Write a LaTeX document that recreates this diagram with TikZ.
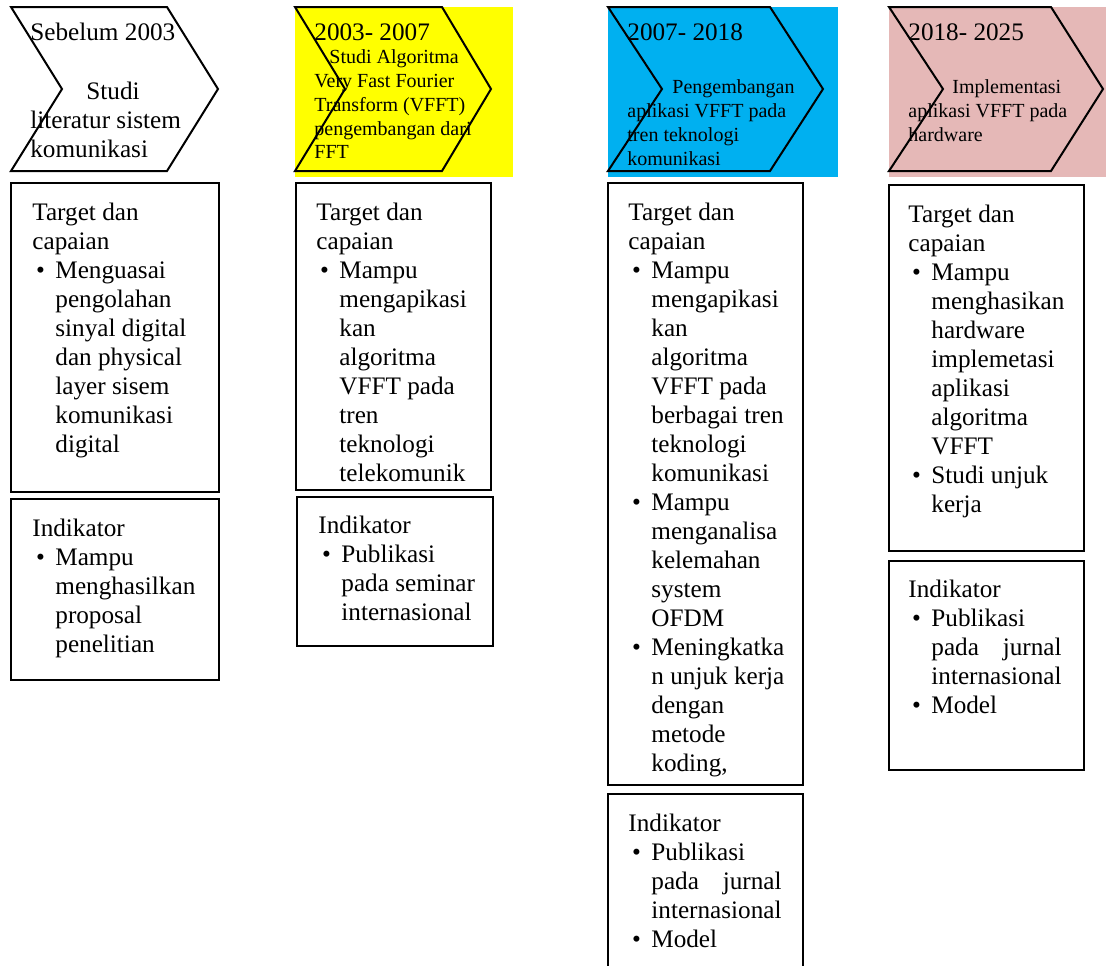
\documentclass[tikz,border=0pt]{standalone}
\usepackage{fontspec}
\setmainfont{Liberation Serif}
\usepackage{calc}
\usetikzlibrary{positioning,fit}
\definecolor{stageyellow}{RGB}{255,255,0}
\definecolor{stageblue}{RGB}{0,176,240}
\definecolor{stagepink}{RGB}{229,184,183}
\newcommand{\bitem}{\makebox[11.5pt][l]{\hspace{1.8pt}\textbullet}}
\newcommand{\bcont}{\hspace*{11.5pt}}
\newcommand{\jline}[2]{\makebox[\widthof{internasional}][s]{#1\hfill #2}}
\begin{document}
\begin{tikzpicture}[x=0.5pt,y=-0.5pt,
    panel/.style={draw=black,line width=0.8pt,inner sep=0pt},
    arrowline/.style={draw=black,line width=1pt,line join=miter},
    yr/.style={font=\fontsize{12.6}{14.5}\selectfont,anchor=base west,inner sep=0pt},
    desc/.style={font=\fontsize{10}{11.9}\selectfont,align=left,anchor=north west,
                 inner sep=0pt,yshift=6.8pt,execute at begin node=\strut},
    body/.style={font=\fontsize{12.6}{14.5}\selectfont,align=left,anchor=north west,
                 inner sep=0pt,yshift=8.2pt,execute at begin node=\strut}]
  \useasboundingbox (0,0) rectangle (1106,965);
  \clip (0,0) rectangle (1106,965);
  % header backgrounds
  \fill[stageyellow] (295,7) rectangle (513,177);
  \fill[stageblue] (608,7) rectangle (838,177);
  \fill[stagepink] (889,7) rectangle (1106,177);
  % chevrons
  \draw[arrowline] (11,7) -- (167,7) -- (218,89) -- (167,171) -- (11,171) -- (62,89) -- cycle;
  \draw[arrowline] (295,7) -- (442,7) -- (491,89) -- (442,171) -- (295,171) -- (345,89) -- cycle;
  \draw[arrowline] (608,7) -- (770,7) -- (823,89) -- (770,171) -- (608,171) -- (662,89) -- cycle;
  \draw[arrowline] (889,7) -- (1051,7) -- (1103,89) -- (1051,171) -- (889,171) -- (943,89) -- cycle;
  % years and stage texts
  \node[yr] (y1) at (30,40) {Sebelum 2003};
  \node[body] (s1) at (30,98) {\hspace*{28pt}Studi\\literatur sistem\\komunikasi};
  \node[yr] (y2) at (314,40) {2003- 2007};
  \node[desc] (s2) at (314,63) {\hspace*{7.5pt}Studi Algoritma\\Very Fast Fourier\\Transform (VFFT)\\pengembangan dari\\FFT};
  \node[yr] (y3) at (627,40) {2007- 2018};
  \node[desc] (s3) at (627,93) {\hspace*{22.5pt}Pengembangan\\aplikasi VFFT pada\\tren teknologi\\komunikasi};
  \node[yr] (y4) at (908,40) {2018- 2025};
  \node[desc] (s4) at (908,93) {\hspace*{22pt}Implementasi\\aplikasi VFFT pada\\hardware};
  % target boxes
  \node[panel,fit={(11,183) (219,492)}] (t1) {};
  \node[panel,fit={(296,183) (491,490)}] (t2) {};
  \node[panel,fit={(608,183) (803,785)}] (t3) {};
  \node[panel,fit={(889,185) (1084,551)}] (t4) {};
  % indikator boxes
  \node[panel,fit={(11,499) (219,680)}] (i1) {};
  \node[panel,fit={(297,497) (493,646)}] (i2) {};
  \node[panel,fit={(608,794) (803,990)}] (i3) {};
  \node[panel,fit={(889,561) (1084,770)}] (i4) {};
  % target texts
  \node[body] (t1txt) at (32,219) {Target dan\\capaian\\\bitem Menguasai\\\bcont pengolahan\\\bcont sinyal digital\\\bcont dan physical\\\bcont layer sisem\\\bcont komunikasi\\\bcont digital};
  \node[body] (t2txt) at (316,219) {Target dan\\capaian\\\bitem Mampu\\\bcont mengapikasi\\\bcont kan\\\bcont algoritma\\\bcont VFFT pada\\\bcont tren\\\bcont teknologi\\\bcont telekomunik};
  \node[body] (t3txt) at (628,219) {Target dan\\capaian\\\bitem Mampu\\\bcont mengapikasi\\\bcont kan\\\bcont algoritma\\\bcont VFFT pada\\\bcont berbagai tren\\\bcont teknologi\\\bcont komunikasi\\\bitem Mampu\\\bcont menganalisa\\\bcont kelemahan\\\bcont system\\\bcont OFDM\\\bitem Meningkatka\\\bcont n unjuk kerja\\\bcont dengan\\\bcont metode\\\bcont koding,};
  \node[body] (t4txt) at (908,221) {Target dan\\capaian\\\bitem Mampu\\\bcont menghasikan\\\bcont hardware\\\bcont implemetasi\\\bcont aplikasi\\\bcont algoritma\\\bcont VFFT\\\bitem Studi unjuk\\\bcont kerja};
  % indikator texts
  \node[body] (i1txt) at (32,535) {Indikator\\\bitem Mampu\\\bcont menghasilkan\\\bcont proposal\\\bcont penelitian};
  \node[body] (i2txt) at (318,532) {Indikator\\\bitem Publikasi\\\bcont pada seminar\\\bcont internasional};
  \node[body] (i3txt) at (628,830) {Indikator\\\bitem Publikasi\\\bcont\jline{pada}{jurnal}\\\bcont internasional\\\bitem Model};
  \node[body] (i4txt) at (908,596) {Indikator\\\bitem Publikasi\\\bcont\jline{pada}{jurnal}\\\bcont internasional\\\bitem Model};
\end{tikzpicture}
\end{document}
